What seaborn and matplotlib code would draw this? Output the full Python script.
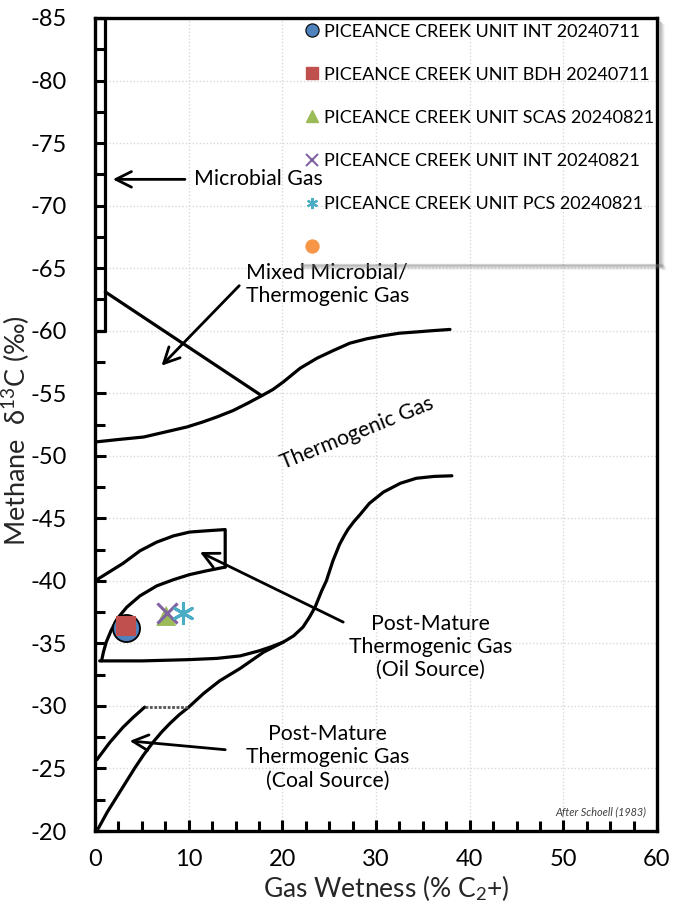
import matplotlib
matplotlib.use("Agg")
import matplotlib.pyplot as plt
import seaborn as sns
import numpy as np
from matplotlib.lines import Line2D
from matplotlib.patches import Rectangle
from matplotlib.ticker import MultipleLocator

# ---------------- data ----------------
series_labels = [
    "PICEANCE CREEK UNIT INT 20240711",
    "PICEANCE CREEK UNIT BDH 20240711",
    "PICEANCE CREEK UNIT SCAS 20240821",
    "PICEANCE CREEK UNIT INT 20240821",
    "PICEANCE CREEK UNIT PCS 20240821",
    "",
]
series_colors = ["#4F81BD", "#C0504D", "#9BBB59", "#8064A2", "#4BACC6", "#F79646"]
series_x = [[3.3], [3.3], [7.6], [7.7], [9.4], []]
series_y = [[-36.2], [-36.4], [-37.2], [-37.4], [-37.4], []]

# boundary curves
microbial_box_x = [0, 1.1, 1.1, 0]
microbial_box_y = [-85, -85, -60, -60]

mixed_line_x = [1.1, 17.8]
mixed_line_y = [-63.1, -54.8]

thermo_upper_x = [0, 2.5, 5.2, 7.5, 9.8, 11.5, 13.0, 14.7, 16.3, 17.8, 19.0, 20.1,
                  21.9, 23.7, 25.4, 27.2, 29.0, 30.8, 32.5, 34.3, 36.0, 37.9]
thermo_upper_y = [-51.1, -51.3, -51.5, -51.9, -52.3, -52.7, -53.1, -53.6, -54.2,
                  -54.8, -55.3, -55.9, -57.0, -57.8, -58.4, -59.0, -59.35, -59.6,
                  -59.8, -59.9, -60.0, -60.1]

thermo_lower_x = [0.5, 5, 10, 13, 15.5, 17.5, 18.7, 20.1, 21.2, 22.2, 22.9, 23.5,
                  24.2, 24.7, 25.4, 26.1, 26.6, 27.0, 27.6, 28.3, 29.3, 30.8, 32.6,
                  34.3, 36.2, 38.1]
thermo_lower_y = [-33.6, -33.6, -33.7, -33.8, -34.0, -34.4, -34.7, -35.1, -35.6,
                  -36.3, -37.1, -37.9, -39.2, -40.0, -41.6, -42.9, -43.6, -44.1,
                  -44.7, -45.3, -46.2, -47.1, -47.8, -48.2, -48.35, -48.4]

oil_outer_x = [0, 1.5, 3.0, 4.8, 6.6, 8.4, 10.1, 11.9, 13.9, 13.9]
oil_outer_y = [-40.0, -40.7, -41.4, -42.4, -43.1, -43.6, -43.9, -44.0, -44.1, -41.1]
oil_inner_x = [13.9, 11.9, 10.1, 8.4, 6.6, 4.8, 3.4, 2.4, 1.7, 1.2, 0.9, 0.7]
oil_inner_y = [-41.1, -40.8, -40.5, -40.1, -39.6, -38.8, -37.9, -37.0, -36.0,
               -35.1, -34.3, -33.6]

coal_outer_x = [0.2, 1.6, 3.0, 4.1, 5.3]
coal_outer_y = [-25.7, -27.1, -28.3, -29.1, -29.9]
coal_top_x = [5.3, 9.9]
coal_top_y = [-29.9, -29.9]
coal_lower_x = [0.35, 1.3, 2.3, 3.3, 4.3, 5.2, 6.2, 7.1, 8.0, 9.0, 10.0, 11.6,
                13.3, 15.5, 18.0, 20.1]
coal_lower_y = [-20.2, -21.5, -22.7, -23.9, -25.1, -26.1, -27.1, -27.9, -28.6,
                -29.3, -29.9, -31.0, -32.0, -33.0, -34.3, -35.1]

x_ticks = [0, 10, 20, 30, 40, 50, 60]
y_ticks = [-85, -80, -75, -70, -65, -60, -55, -50, -45, -40, -35, -30, -25, -20]

# ---------------- style ----------------
sns.set_theme(style="white")
plt.rcParams["font.family"] = ["Lato", "DejaVu Sans"]
plt.rcParams["mathtext.fontset"] = "custom"
plt.rcParams["mathtext.rm"] = "Lato"
plt.rcParams["mathtext.it"] = "Lato:italic"
plt.rcParams["text.color"] = "black"

W, H = 673, 908
fig = plt.figure(figsize=(W / 100, H / 100), dpi=100)
fig.patch.set_facecolor("white")
ax = fig.add_axes([95 / W, 1 - 831 / H, (657 - 95) / W, (831 - 18) / H])
ax.set_facecolor("white")

ax.set_xlim(0, 60)
ax.set_ylim(-20, -85)
ax.set_xticks(x_ticks)
ax.set_yticks(y_ticks)
ax.set_xticklabels([str(v) for v in x_ticks])
ax.set_yticklabels([str(v) for v in y_ticks])
ax.xaxis.set_minor_locator(MultipleLocator(2.5))
ax.yaxis.set_minor_locator(MultipleLocator(2.5))
ax.tick_params(axis="both", which="both", direction="in", colors="black",
               bottom=True, left=True, top=False, right=False)
ax.tick_params(axis="both", which="major", length=8, width=2.2, labelsize=17)
ax.tick_params(axis="both", which="minor", length=7, width=2.2)
ax.tick_params(axis="y", which="major", pad=20)
ax.tick_params(axis="x", which="major", pad=13)
ax.grid(True, which="major", color="#D9D9D9", linestyle=(0, (1, 1.5)), linewidth=1)
for s in ax.spines.values():
    s.set_color("black")
    s.set_linewidth(2.4)
    s.set_zorder(10)

# ---------------- curves ----------------
line_kw = dict(sort=False, estimator=None, color="black", linewidth=2.3, ax=ax, legend=False)
for cx, cy in [(microbial_box_x, microbial_box_y), (mixed_line_x, mixed_line_y),
               (thermo_upper_x, thermo_upper_y), (thermo_lower_x, thermo_lower_y),
               (oil_outer_x, oil_outer_y), (oil_inner_x, oil_inner_y),
               (coal_outer_x, coal_outer_y), (coal_lower_x, coal_lower_y)]:
    sns.lineplot(x=cx, y=cy, **line_kw)
sns.lineplot(x=coal_top_x, y=coal_top_y, sort=False, estimator=None, color="#555555",
             linewidth=2.0, linestyle=(0, (1, 0.6)), ax=ax, legend=False)
for ln in ax.get_lines():
    ln.set_solid_joinstyle("round")
    ln.set_solid_capstyle("round")

# ---------------- arrows & texts ----------------
arrow_kw = dict(arrowstyle="->", color="black", lw=2.0, mutation_scale=28,
                shrinkA=0, shrinkB=0)
ax.annotate("", xy=(1.9, -72.1), xytext=(9.6, -72.1), arrowprops=arrow_kw)
ax.annotate("", xy=(7.1, -57.2), xytext=(15.4, -63.6), arrowprops=arrow_kw)
ax.annotate("", xy=(11.2, -42.3), xytext=(26.5, -36.7), arrowprops=arrow_kw)
ax.annotate("", xy=(3.7, -27.2), xytext=(13.9, -26.5), arrowprops=arrow_kw)

txt_kw = dict(fontsize=15.3, color="black", ha="center", va="center", linespacing=1.2)
ax.text(10.6, -72.1, "Microbial Gas", fontsize=15.3, ha="left", va="center")
ax.text(24.8, -63.7, "Mixed Microbial/\nThermogenic Gas", **txt_kw)
ax.text(28.0, -51.8, "Thermogenic Gas", rotation=22, **txt_kw)
ax.text(35.8, -34.7, "Post-Mature\nThermogenic Gas\n(Oil Source)", **txt_kw)
ax.text(24.8, -25.9, "Post-Mature\nThermogenic Gas\n(Coal Source)", **txt_kw)
ax.text(58.9, -21.5, "After Schoell (1983)", fontsize=7.8, style="italic",
        color="#404040", ha="right", va="center")

# ---------------- data points ----------------
markers = ["o", "s", "^", "x", (6, 2, 0), "o"]
sizes = [380, 210, 210, 210, 210, 150]
for i in range(5):
    kw = dict(x=series_x[i], y=series_y[i], marker=markers[i], s=sizes[i],
              color=series_colors[i], ax=ax, legend=False, zorder=6 + i)
    if markers[i] == "o":
        kw.update(edgecolor="black", linewidth=1.3)
    elif markers[i] in ("x",) or isinstance(markers[i], tuple):
        kw.update(linewidth=2.2)
    else:
        kw.update(edgecolor="none", linewidth=0)
    sns.scatterplot(**kw)

ax.set_xlabel(r"Gas Wetness (% C$_2$+)", fontsize=19)
ax.xaxis.set_label_coords((386 - 95) / 562, (831 - 873) / 813)
ax.set_ylabel(r"Methane  δ$^{13}$C (‰)", fontsize=19.5)
ax.yaxis.set_label_coords((32 - 95) / 562, 1 - (431 - 18) / 813)

# ---------------- legend ----------------
handles = []
for i in range(6):
    m = markers[i]
    if m == "o":
        h = Line2D([], [], linestyle="none", marker="o", markersize=9.5,
                   markerfacecolor=series_colors[i],
                   markeredgecolor="black" if i == 0 else series_colors[i],
                   markeredgewidth=0.8)
    elif m == "s":
        h = Line2D([], [], linestyle="none", marker="s", markersize=9,
                   markerfacecolor=series_colors[i], markeredgecolor=series_colors[i])
    elif m == "^":
        h = Line2D([], [], linestyle="none", marker="^", markersize=9,
                   markerfacecolor=series_colors[i], markeredgecolor=series_colors[i])
    else:
        h = Line2D([], [], linestyle="none", marker=m, markersize=8,
                   markeredgecolor=series_colors[i], markeredgewidth=1.5)
    handles.append(h)
leg = ax.legend(handles, series_labels, loc="upper left",
                bbox_to_anchor=(300 / W, 1 - 20 / H), bbox_transform=fig.transFigure,
                frameon=False, fontsize=13, labelspacing=1.5, handlelength=0.9,
                handletextpad=0.25, borderpad=0.2, borderaxespad=0)
leg.set_zorder(20)

# legend drop shadow
for k, a in enumerate([0.25, 0.18, 0.12, 0.07, 0.04]):
    fig.patches.append(Rectangle(((300 + k) / W, 1 - (265 + k) / H), 362 / W, 1.2 / H,
                                 transform=fig.transFigure, color="#808080",
                                 alpha=a, zorder=1))
    fig.patches.append(Rectangle(((659 + k) / W, 1 - (266 + k) / H), 1.2 / W, 245 / H,
                                 transform=fig.transFigure, color="#808080",
                                 alpha=a, zorder=1))

fig.savefig("out.png", dpi=100, facecolor="white")
